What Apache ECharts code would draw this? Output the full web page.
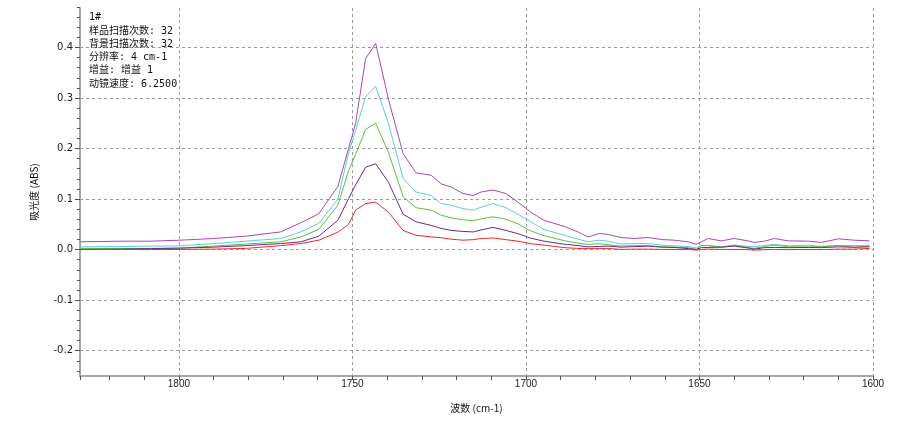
<!DOCTYPE html>
<html>
<head>
<meta charset="utf-8">
<script src="https://cdn.jsdelivr.net/npm/echarts@6/dist/echarts.min.js"></script>
<style>html,body{margin:0;padding:0;background:#fff;}#c{width:912px;height:426px;}</style>
</head>
<body>
<div id="c"></div>
<script>
// wavenumbers (cm-1)
const wavenumbers = [1828.4,1816.9,1808.2,1799.6,1790.0,1780.8,1770.7,1764.9,1759.7,1754.2,1751.1,1749.1,1746.2,1743.3,1739.6,1735.4,1731.7,1727.3,1724.4,1721.6,1718.1,1715.2,1712.9,1709.5,1705.8,1702.3,1698.6,1694.8,1689.0,1685.0,1682.1,1678.9,1676.3,1672.6,1668.8,1664.8,1661.0,1657.3,1653.2,1650.9,1649.5,1647.5,1643.7,1640.0,1636.0,1634.2,1631.3,1628.4,1624.4,1618.6,1614.9,1610.0,1605.4,1601.0];
const seriesMagenta = [0.0154,0.0167,0.0167,0.0187,0.022,0.0266,0.035,0.053,0.071,0.125,0.2,0.249,0.378,0.408,0.297,0.19,0.152,0.147,0.130,0.124,0.111,0.107,0.114,0.118,0.111,0.094,0.074,0.058,0.046,0.035,0.025,0.032,0.030,0.024,0.022,0.024,0.020,0.0187,0.0154,0.0102,0.0154,0.022,0.0173,0.022,0.0173,0.0142,0.0167,0.022,0.0173,0.0167,0.0142,0.0213,0.0187,0.0173];
const seriesCyan = [0.0055,0.006,0.007,0.0075,0.012,0.0167,0.022,0.035,0.052,0.1,0.192,0.235,0.303,0.323,0.249,0.141,0.114,0.107,0.091,0.088,0.081,0.078,0.084,0.091,0.083,0.070,0.055,0.040,0.0285,0.0207,0.0154,0.0187,0.0167,0.011,0.012,0.012,0.0089,0.0075,0.006,0.0035,0.008,0.0083,0.0055,0.0089,0.0063,0.0055,0.008,0.0102,0.0075,0.0089,0.0063,0.0083,0.008,0.0089];
const seriesGreen = [0.0024,0.0024,0.0024,0.003,0.0069,0.011,0.0154,0.025,0.040,0.088,0.156,0.188,0.238,0.250,0.192,0.105,0.083,0.078,0.068,0.063,0.059,0.057,0.061,0.065,0.060,0.051,0.037,0.0276,0.0177,0.0128,0.0102,0.0118,0.0098,0.0069,0.0079,0.0079,0.0055,0.0049,0.0039,0.0004,0.0079,0.0079,0.0043,0.0089,0.0039,0.0024,0.0059,0.0089,0.0055,0.0055,0.0059,0.0079,0.0043,0.0069];
const seriesPurple = [0.0004,0.001,0.002,0.003,0.0049,0.0079,0.012,0.0154,0.0266,0.058,0.101,0.128,0.163,0.170,0.133,0.070,0.055,0.048,0.042,0.038,0.036,0.035,0.039,0.044,0.038,0.0315,0.0226,0.0167,0.0108,0.0079,0.0055,0.0063,0.0069,0.0049,0.0059,0.0069,0.0049,0.0043,0.002,0.0004,0.0039,0.0043,0.0049,0.0069,0.0033,0.001,0.0039,0.0043,0.0039,0.0043,0.0039,0.0055,0.0049,0.0055];
const seriesRed = [0.0,0.0004,0.0,0.0004,0.001,0.0024,0.0079,0.012,0.0187,0.0344,0.050,0.078,0.091,0.094,0.074,0.038,0.0285,0.025,0.0236,0.0207,0.0187,0.0197,0.022,0.023,0.0197,0.0167,0.0118,0.0089,0.0039,0.0024,0.0024,0.0024,0.0024,0.0004,0.001,0.001,0.0004,0.0004,0.0004,-0.001,0.0004,0.001,0.0004,0.0004,0.0,-0.001,0.0,0.0004,0.0,0.0004,0.0,0.001,0.001,0.0024];
const infoLines = ['1#','样品扫描次数: 32','背景扫描次数: 32','分辨率: 4 cm-1','增益: 增益 1','动镜速度: 6.2500'];
const xName = '波数 (cm-1)';
const yName = '吸光度 (ABS)';
const yTickLabels = ['-0.2','-0.1','0.0','0.1','0.2','0.3','0.4'];

const seriesDefs = [
  {name:'s1', data: seriesMagenta, color:'#a848b8'},
  {name:'s2', data: seriesCyan, color:'#5ccfd8'},
  {name:'s3', data: seriesGreen, color:'#5cc23c'},
  {name:'s4', data: seriesPurple, color:'#6a2a86'},
  {name:'s5', data: seriesRed, color:'#ee2a2a'}
];

const X_MIN = 1600, X_MAX = 1828.5;
const Y_MIN = -0.25, Y_MAX = 0.478;
const T = 8, B = 376, L = 80, R = 873;
const pxPerY = (B - T) / (Y_MAX - Y_MIN);
const yPix = v => T + (Y_MAX - v) * pxPerY;

const gridColor = '#9a9a9a';
const axisColor = '#a6a6a6';
const labelFont = '"DejaVu Sans", sans-serif';

const chart = echarts.init(document.getElementById('c'), null, {renderer:'canvas'});
chart.setOption({
  animation: false,
  backgroundColor: '#fff',
  title: {
    text: infoLines.join('\n'),
    left: 89, top: 11, padding: 0,
    textStyle: {fontSize: 10, lineHeight: 13.3, fontWeight: 'normal', color: '#111',
      fontFamily: '"DejaVu Sans Mono", "Noto Sans CJK SC", monospace'}
  },
  grid: [
    {left: L, right: 912 - R, top: T, bottom: 426 - B},
    {left: L, right: 912 - R, top: yPix(0.4), bottom: 426 - yPix(-0.2)},
    {left: L, right: 912 - R, top: yPix(0.48), bottom: 426 - yPix(-0.24)}
  ],
  xAxis: [
    {gridIndex: 0, type: 'value', position: 'bottom', min: X_MIN, max: X_MAX, inverse: true, interval: 50,
      name: xName, nameLocation: 'middle', nameGap: 27,
      nameTextStyle: {fontSize: 10, color: '#111', fontFamily: '"Noto Sans CJK SC", sans-serif'},
      axisLine: {show: true, onZero: false, lineStyle: {color: axisColor, width: 2}},
      axisTick: {show: false},
      axisLabel: {show: true, margin: 3, fontSize: 10, color: '#222', showMaxLabel: false,
        fontFamily: '"Liberation Sans Narrow", "Liberation Sans", sans-serif',
        formatter: v => (Math.abs(v % 50) < 1e-6 ? String(v) : '')},
      splitLine: {show: true, lineStyle: {color: gridColor, type: [3, 3], width: 1}}
    },
    {gridIndex: 0, type: 'value', position: 'bottom', offset: 0, min: X_MIN, max: X_MAX, inverse: true, interval: 10,
      axisLine: {show: false, onZero: false}, axisLabel: {show: false}, splitLine: {show: false},
      axisTick: {show: true, length: 4, inside: false, lineStyle: {color: '#555'}}
    },
    {gridIndex: 1, type: 'value', show: false, min: X_MIN, max: X_MAX},
    {gridIndex: 2, type: 'value', show: false, min: X_MIN, max: X_MAX}
  ],
  yAxis: [
    {gridIndex: 0, type: 'value', position: 'left', min: Y_MIN, max: Y_MAX,
      name: yName, nameLocation: 'middle', nameGap: 41, nameRotate: 90,
      nameTextStyle: {fontSize: 10, color: '#111', fontFamily: '"Noto Sans CJK SC", sans-serif'},
      axisLine: {show: true, onZero: false, lineStyle: {color: axisColor, width: 2}},
      axisTick: {show: false}, axisLabel: {show: false}, splitLine: {show: false}
    },
    {gridIndex: 1, type: 'value', position: 'left', min: -0.2, max: 0.4, interval: 0.1,
      axisLine: {show: false, onZero: false},
      axisTick: {show: true, length: 5, lineStyle: {color: '#444'}},
      axisLabel: {show: true, margin: 7, fontSize: 10, color: '#222', fontFamily: labelFont,
        formatter: v => yTickLabels[Math.round((v + 0.2) / 0.1)] || ''},
      splitLine: {show: true, lineStyle: {color: gridColor, type: [3, 3], width: 1}}
    },
    {gridIndex: 2, type: 'value', position: 'left', min: -0.24, max: 0.48, interval: 0.02,
      axisLine: {show: false, onZero: false}, axisLabel: {show: false}, splitLine: {show: false},
      axisTick: {show: true, length: 3, lineStyle: {color: '#555'}}
    }
  ],
  series: seriesDefs.map(s => ({
    name: s.name, type: 'line', xAxisIndex: 0, yAxisIndex: 0,
    symbol: 'none', smooth: false,
    lineStyle: {color: s.color, width: 1},
    data: wavenumbers.map((w, i) => [w, s.data[i]])
  }))
});
</script>
</body>
</html>
